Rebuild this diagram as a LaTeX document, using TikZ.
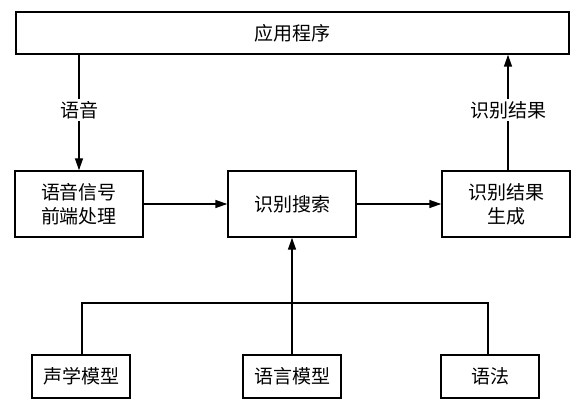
\documentclass[tikz,border=0pt]{standalone}
\usepackage{fontspec}
\newfontfamily\cjk{Noto Sans CJK SC}
\usetikzlibrary{arrows.meta}
\begin{document}
\begin{tikzpicture}[x=1pt,y=-1pt,
  box/.style={draw,line width=1.4pt,rectangle,inner sep=0pt,font=\cjk\fontsize{19}{24}\selectfont,align=center},
  lbl/.style={fill=white,inner sep=2pt,font=\cjk\fontsize{19}{24}\selectfont},
  conn/.style={line width=1.4pt},
  arr/.style={line width=1.4pt,-{Triangle[length=12pt,width=8pt]}}]
\useasboundingbox (0,0) rectangle (584,409);
\node[box,minimum width=553pt,minimum height=42pt] (app) at (292.5,33) {应用程序};
\node[box,minimum width=128pt,minimum height=66pt] (pre) at (79,204) {语音信号\\前端处理};
\node[box,minimum width=128pt,minimum height=66pt] (srch) at (292,204) {识别搜索};
\node[box,minimum width=128pt,minimum height=66pt] (gen) at (506,204) {识别结果\\生成};
\node[box,minimum width=98pt,minimum height=43pt] (am) at (81,376.5) {声学模型};
\node[box,minimum width=98pt,minimum height=43pt] (lm) at (292,376.5) {语言模型};
\node[box,minimum width=98pt,minimum height=43pt] (gr) at (490,376.5) {语法};
\coordinate (j) at (292,303);
\draw[arr] (app.south -| pre.north) -- node[lbl,pos=0.48]{语音} (pre.north);
\draw[arr] (gen.north -| 508,0) -- node[lbl,pos=0.52]{识别结果} (app.south -| 508,0);
\draw[arr] (pre.east) -- (srch.west);
\draw[arr] (srch.east) -- (gen.west);
\draw[conn] (am.north -| 82,0) |- (j) -| (gr.north -| 488,0);
\draw[arr] (lm.north) -- (srch.south);
\end{tikzpicture}
\end{document}
